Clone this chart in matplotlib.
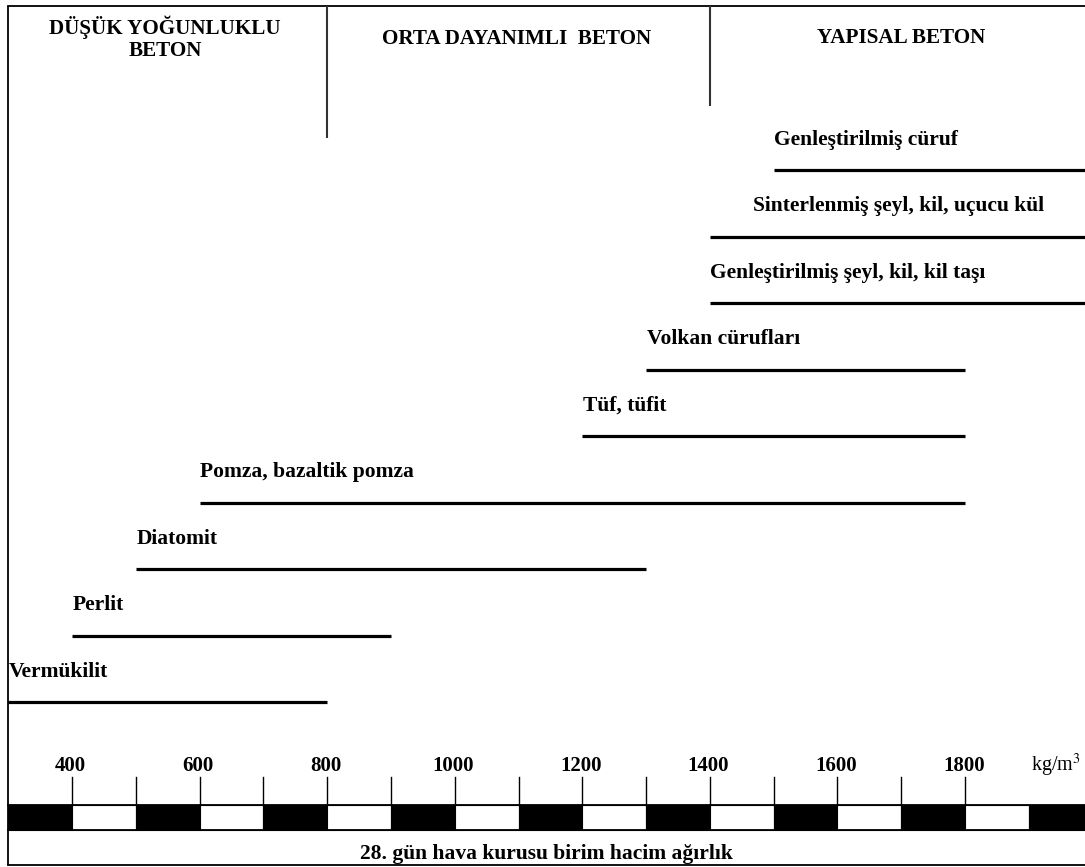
import matplotlib
matplotlib.use("Agg")
import matplotlib.pyplot as plt
from matplotlib.patches import Rectangle

# ---- data ----
materials = ["Vermükilit", "Perlit", "Diatomit", "Pomza, bazaltik pomza", "Tüf, tüfit",
             "Volkan cürufları", "Genleştirilmiş şeyl, kil, kil taşı",
             "Sinterlenmiş şeyl, kil, uçucu kül", "Genleştirilmiş cüruf"]
range_start = [300, 400, 500, 600, 1200, 1300, 1400, 1400, 1500]
range_end = [800, 900, 1300, 1800, 1800, 1800, 2000, 2000, 2000]
tick_values = [400, 600, 800, 1000, 1200, 1400, 1600, 1800]
zones = ["DÜŞÜK YOĞUNLUKLU\nBETON", "ORTA DAYANIMLI  BETON", "YAPISAL BETON"]
zone_bounds = [300, 800, 1400, 1988]
unit = "kg/m$^3$"
xlabel = "28. gün hava kurusu birim hacim ağırlık"

# ---- layout ----
W, H = 1085, 867
fig = plt.figure(figsize=(W / 100, H / 100), dpi=100)
ax = fig.add_axes([0, 0, 1, 1])
px_per_unit = 893 / 1400
x_left = 400 - 72 / px_per_unit
x_right = x_left + W / px_per_unit
ax.set_xlim(x_left, x_right)
ax.set_ylim(H, 0)
ax.axis("off")


def px2x(p):
    return x_left + p / px_per_unit


font = dict(family="Liberation Serif", fontweight="bold", color="black")
lw = 1.3

# frame
ax.plot([300, 300], [6, 865], color="black", lw=lw, solid_capstyle="butt")
ax.plot([300, x_right], [6, 6], color="black", lw=lw)
ax.plot([300, x_right], [865, 865], color="black", lw=lw)

# zone dividers and headers
ax.plot([zone_bounds[1]] * 2, [6, 138], color="#333333", lw=1.5, solid_capstyle="butt")
ax.plot([zone_bounds[2]] * 2, [6, 106], color="#333333", lw=1.5, solid_capstyle="butt")
ax.text(px2x(165), 38, zones[0], ha="center", va="center", fontsize=15.2,
        linespacing=1.1, **font)
ax.text(px2x(517), 39.5, zones[1], ha="center", va="center", fontsize=15.2, **font)
ax.text(px2x(901), 38, zones[2], ha="center", va="center", fontsize=15.2, **font)

# range bars
label_shift = {"Sinterlenmiş şeyl, kil, uçucu kül": 67}
y0, dy = 702, 66.5
for i, (name, s, e) in enumerate(zip(materials, range_start, range_end)):
    y = y0 - i * dy
    ax.plot([s, e], [y, y], color="black", lw=2.3, solid_capstyle="butt")
    ax.text(s + label_shift.get(name, 0) + 1, y - 25, name, ha="left", va="baseline",
            fontsize=15.5, **font)

# scale strip
strip_top, strip_bot = 805, 830
v = 300
k = 0
while v < x_right:
    ax.add_patch(Rectangle((v, strip_top), 100, strip_bot - strip_top,
                           facecolor="black" if k % 2 == 0 else "white",
                           edgecolor="black", lw=0.8))
    v += 100
    k += 1
ax.plot([300, x_right], [strip_top, strip_top], color="black", lw=lw)
ax.plot([300, x_right], [strip_bot, strip_bot], color="black", lw=lw)

for t in range(400, 1900, 100):
    ax.plot([t, t], [777, strip_top], color="black", lw=1.0)
for t in tick_values:
    ax.text(t - 2, 771, str(t), ha="center", va="baseline", fontsize=15, **font)
ax.text(px2x(1056), 771, unit, ha="center", va="baseline", fontsize=14.5,
        family="Liberation Serif", color="black", math_fontfamily="stix")

ax.text(px2x(546.5), 859, xlabel, ha="center", va="baseline", fontsize=15.5, **font)

fig.savefig("out.png", dpi=100)
